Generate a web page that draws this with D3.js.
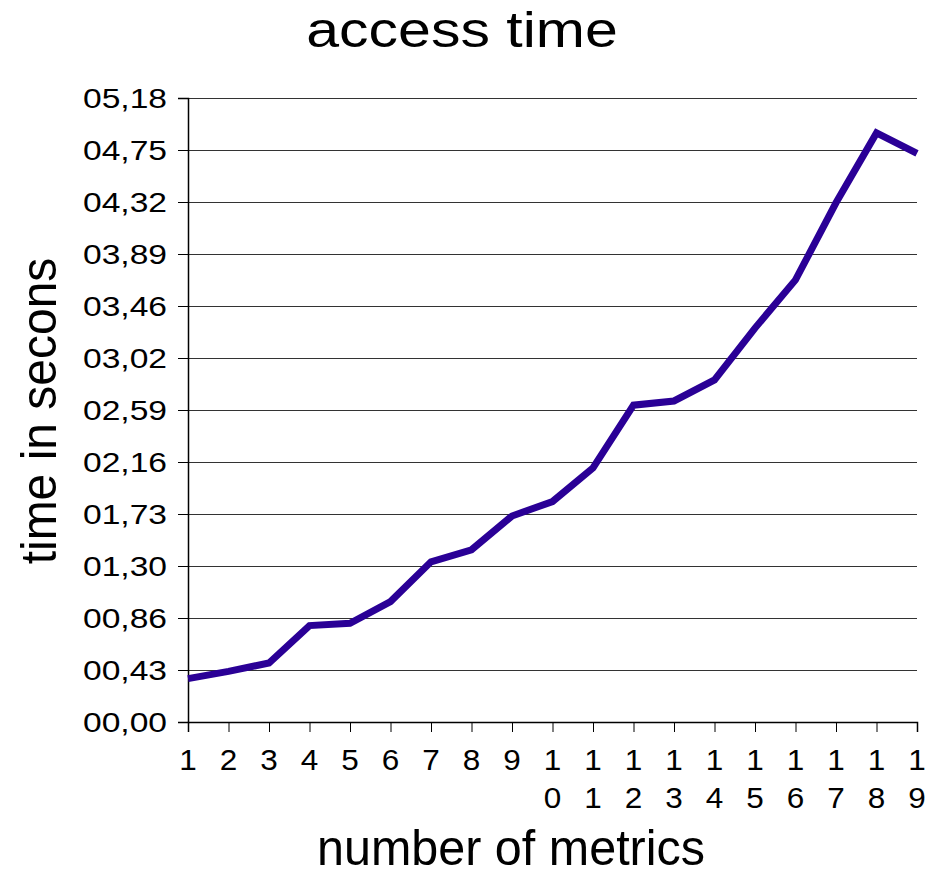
<!DOCTYPE html>
<html><head><meta charset="utf-8">
<script src="https://cdn.jsdelivr.net/npm/d3@7"></script>
<style>body{margin:0;background:#fff}svg{display:block}</style>
</head><body>
<script>
const categories = ["1","2","3","4","5","6","7","8","9","10","11","12","13","14","15","16","17","18","19"];
const values = [0.36,0.42,0.49,0.80,0.82,1.00,1.33,1.43,1.71,1.83,2.11,2.63,2.665,2.84,3.27,3.67,4.31,4.89,4.72];
const yTickLabels = ["00,00","00,43","00,86","01,30","01,73","02,16","02,59","03,02","03,46","03,89","04,32","04,75","05,18"];
const yMax = 5.18;
const title = "access time";
const xTitle = "number of metrics";
const yTitle = "time in secons";

const W = 938, H = 869;
const FONT = "Liberation Sans, Arial, sans-serif";
const m = {left:188, right:21, top:98, bottom:147};
const svg = d3.select("body").append("svg").attr("width",W).attr("height",H);
const x = d3.scalePoint().domain(categories).range([m.left, W-m.right]);
const y = d3.scaleLinear().domain([0,yMax]).range([H-m.bottom, m.top]);
const tickVals = yTickLabels.map((d,i)=> i*yMax/(yTickLabels.length-1));

// gridlines
svg.append("g").selectAll("line").data(tickVals.slice(1)).join("line")
  .attr("x1",m.left).attr("x2",W-m.right)
  .attr("y1",d=>Math.round(y(d))+0.5).attr("y2",d=>Math.round(y(d))+0.5)
  .attr("stroke","#333").attr("stroke-width",1.2);

// y axis
const yAxis = d3.axisLeft(y).tickValues(tickVals).tickSize(10).tickFormat("");
const gy = svg.append("g").attr("transform",`translate(${m.left},0)`).call(yAxis);
gy.select(".domain").attr("stroke","#000").attr("stroke-width",1.5);
gy.selectAll(".tick line").attr("stroke","#000").attr("stroke-width",1);
svg.append("g").selectAll("text").data(tickVals).join("text")
  .attr("transform",d=>`translate(167,${y(d)}) scale(1.2,1)`)
  .attr("text-anchor","end").attr("dy","0.36em")
  .attr("font-family",FONT).attr("font-size",28).attr("fill","#000")
  .text((d,i)=>yTickLabels[i]);

// x axis
const xAxis = d3.axisBottom(x).tickSize(10).tickFormat("");
const gx = svg.append("g").attr("transform",`translate(0,${H-m.bottom})`).call(xAxis);
gx.select(".domain").attr("stroke","#000").attr("stroke-width",1.5);
gx.selectAll(".tick line").attr("stroke","#000").attr("stroke-width",1);
const xl = svg.append("g").selectAll("text").data(categories).join("text")
  .attr("transform",d=>`translate(${x(d)},770) scale(1.05,1)`)
  .attr("text-anchor","middle")
  .attr("font-family",FONT).attr("font-size",30).attr("fill","#000");
xl.each(function(d){
  const t = d3.select(this);
  d.split("").forEach((c,i)=>{
    t.append("tspan").attr("x",0).attr("dy",i===0?0:38).text(c);
  });
});

// line
svg.append("path").datum(values)
  .attr("d", d3.line().x((d,i)=>x(categories[i])).y(d=>y(d)))
  .attr("fill","none").attr("stroke","#2a0096").attr("stroke-width",7)
  .attr("stroke-linejoin","miter");

// titles
svg.append("text").attr("transform","translate(462,47) scale(1.18,1)").attr("text-anchor","middle")
  .attr("font-family",FONT).attr("font-size",50).text(title);
svg.append("text").attr("transform","translate(511,865) scale(0.97,1)").attr("text-anchor","middle")
  .attr("font-family",FONT).attr("font-size",50).text(xTitle);
svg.append("text").attr("transform","translate(56,411) rotate(-90) scale(0.96,1)").attr("text-anchor","middle")
  .attr("font-family",FONT).attr("font-size",50).text(yTitle);
</script>
</body></html>
